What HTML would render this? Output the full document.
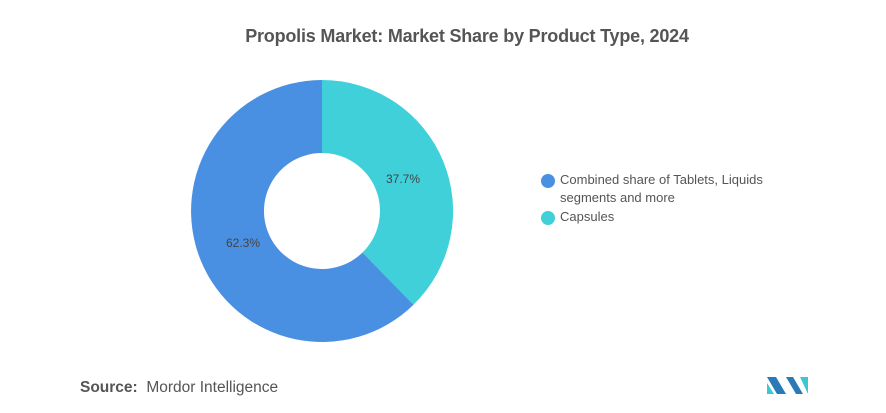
<!DOCTYPE html>
<html><head><style>
body{margin:0;width:886px;height:413px;background:#fff;font-family:"Liberation Sans",sans-serif;overflow:hidden;position:relative}
.t{position:absolute;top:26px;left:24px;width:886px;text-align:center;font-size:18px;font-weight:bold;color:#555;letter-spacing:-0.2px}
.l{position:absolute;font-size:13px;color:#555;line-height:18px}
.d{position:absolute;width:14px;height:14px;border-radius:50%}
</style></head><body>
<div class="t">Propolis Market: Market Share by Product Type, 2024</div>
<svg width="886" height="413" style="position:absolute;left:0;top:0">
<path d="M322 80 A131 131 0 0 1 413.5 304.8 L362.5 252.5 A58 58 0 0 0 322 153 Z" fill="#40d0da"/>
<path d="M413.5 304.8 A131 131 0 1 1 322 80 L322 153 A58 58 0 1 0 362.5 252.5 Z" fill="#4a90e2"/>
<text x="403" y="183" font-size="12" fill="#444" text-anchor="middle" font-family="Liberation Sans">37.7%</text>
<text x="243" y="247" font-size="12" fill="#444" text-anchor="middle" font-family="Liberation Sans">62.3%</text>
<polygon points="767,377 776,377 786,394 777,394" fill="#2a7ab8"/>
<polygon points="767,383 774,394 767,394" fill="#3cc6d6"/>
<polygon points="786,377 793,377 803,394 796,394" fill="#2a7ab8"/>
<polygon points="800,377 808,377 808,394" fill="#3cc6d6"/>
</svg>
<div class="d" style="left:541px;top:174px;background:#4a90e2"></div>
<div class="l" style="left:560px;top:171px">Combined share of Tablets, Liquids<br>segments and more</div>
<div class="d" style="left:541px;top:211px;background:#40d0da"></div>
<div class="l" style="left:560px;top:208px">Capsules</div>
<div class="l" style="left:80px;top:379px;font-size:15.5px"><b>Source:</b>&nbsp; Mordor Intelligence</div>
</body></html>
